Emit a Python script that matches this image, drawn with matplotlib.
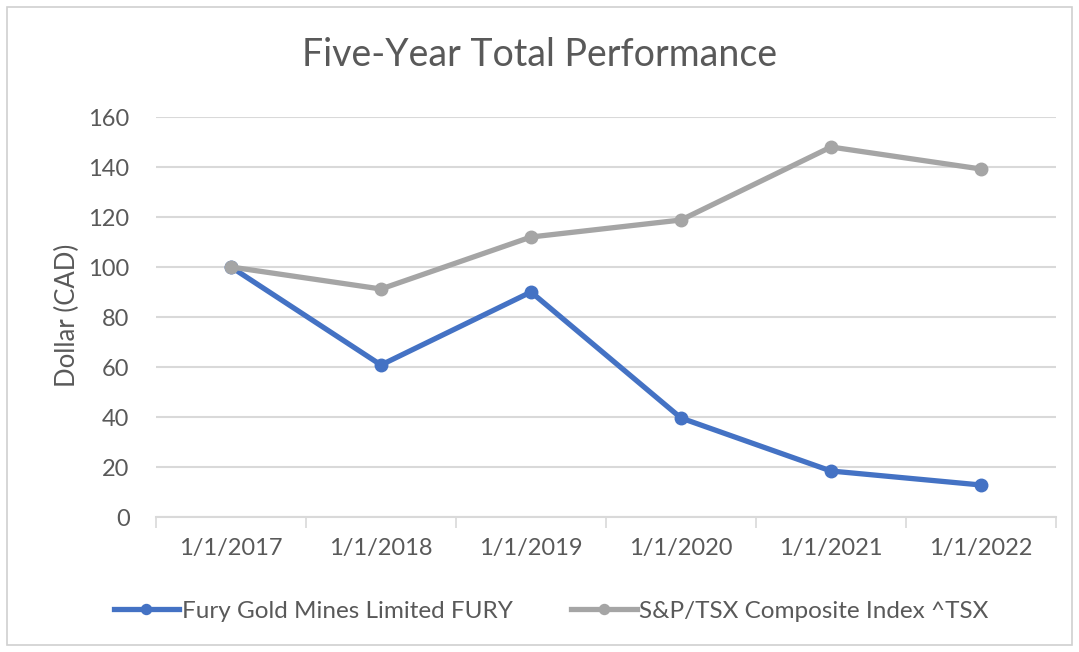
import matplotlib.pyplot as plt
from matplotlib.patches import Rectangle

# data
dates = ["1/1/2017", "1/1/2018", "1/1/2019", "1/1/2020", "1/1/2021", "1/1/2022"]
fury = [100, 60.8, 90, 39.6, 18.4, 12.8]
tsx = [100, 91.2, 112, 118.8, 148, 139.2]
yticks = [0, 20, 40, 60, 80, 100, 120, 140, 160]

plt.rcParams['font.family'] = ['Lato', 'DejaVu Sans']
text_col = '#595959'
grid_col = '#d9d9d9'

fig = plt.figure(figsize=(10.79, 6.52), dpi=100)
fig.patches.append(Rectangle((7 / 1079, 7 / 652), 1 - 14 / 1079, 1 - 14 / 652,
                             transform=fig.transFigure, fill=False,
                             edgecolor='#d0d0d0', linewidth=1.2))

ax = fig.add_axes([156 / 1079, 1 - 517 / 652, 900 / 1079, 400 / 652])
x = list(range(len(dates)))
ax.plot(x, fury, color='#4472c4', lw=3.8, marker='o', ms=9,
        label='Fury Gold Mines Limited FURY', zorder=3)
ax.plot(x, tsx, color='#a5a5a5', lw=3.8, marker='o', ms=9,
        label='S&P/TSX Composite Index ^TSX', zorder=3)

ax.set_xlim(-0.5, len(dates) - 0.5)
ax.set_ylim(0, 160)
ax.set_yticks(yticks)
ax.set_xticks(x)
ax.set_xticklabels(dates)
ax.set_xticks([i - 0.5 for i in range(len(dates) + 1)], minor=True)
ax.tick_params(axis='x', which='major', length=0, pad=15, labelsize=17, colors=text_col)
ax.tick_params(axis='x', which='minor', length=8, width=1.2, color=grid_col)
ax.tick_params(axis='y', length=0, pad=19, labelsize=17, colors=text_col)
ax.yaxis.grid(True, color=grid_col, lw=1.5)
ax.set_axisbelow(True)
for s in ['top', 'right', 'left']:
    ax.spines[s].set_visible(False)
ax.spines['bottom'].set_color(grid_col)
ax.spines['bottom'].set_linewidth(1.5)

fig.text(67 / 1079, 1 - 315 / 652, 'Dollar (CAD)', rotation=90, ha='center', va='center',
         fontsize=18.5, color=text_col)
fig.text(0.5, 1 - 55 / 652, 'Five-Year Total Performance', ha='center', va='center',
         fontsize=27, color=text_col)

fig.legend(loc='center', bbox_to_anchor=(551 / 1079, 1 - 611 / 652), ncol=2, frameon=False,
           fontsize=17.5, labelcolor=text_col, handlelength=2.7, handletextpad=0.1,
           columnspacing=2.4, markerscale=0.8)

fig.savefig('out.png', dpi=100)
